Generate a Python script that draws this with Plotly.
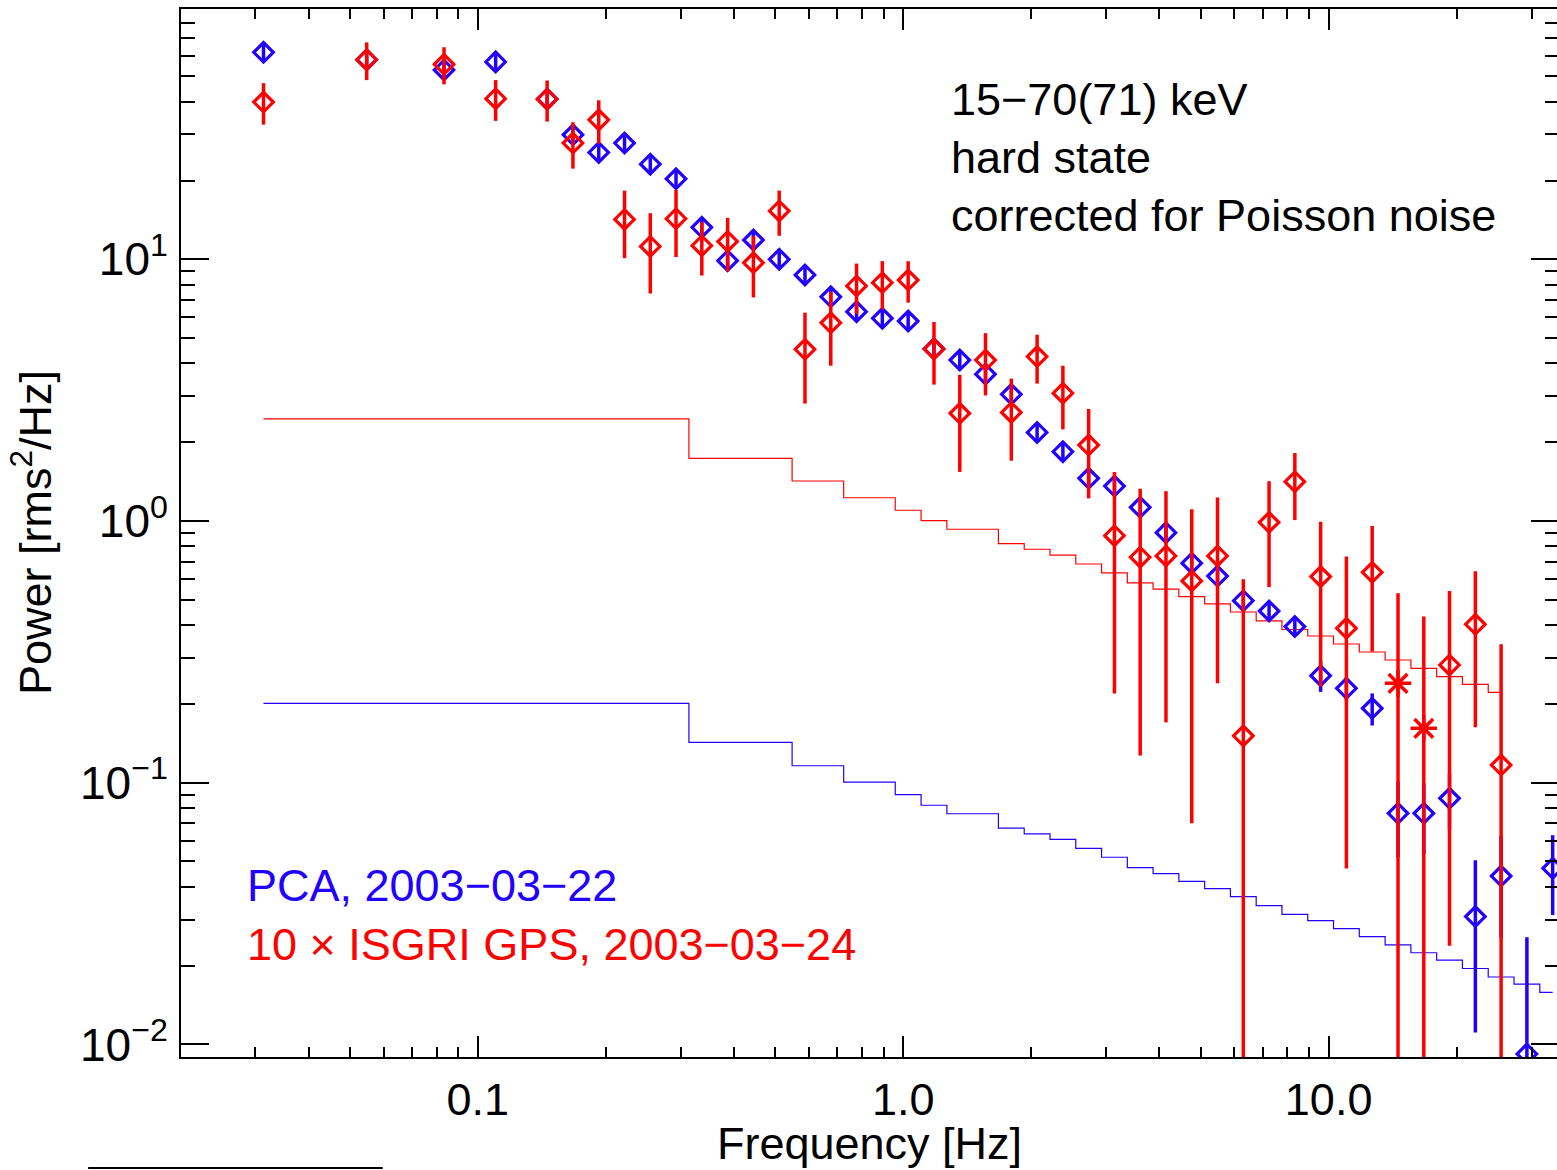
import plotly.graph_objects as go

# ---------------- data ----------------
# frequency bins (Hz) of the log-rebinned power spectra
freq_bins = [0.03134, 0.05478, 0.08326, 0.1101, 0.1455, 0.1673, 0.1924, 0.2212,
             0.2543, 0.2923, 0.3361, 0.3865, 0.4444, 0.5110, 0.5875, 0.6755,
             0.7767, 0.8929, 1.027, 1.181, 1.358, 1.561, 1.795, 2.064, 2.373,
             2.728, 3.137, 3.606, 4.146, 4.767, 5.481, 6.302, 7.244, 8.329,
             9.577, 11.01, 12.66, 14.56, 16.74, 19.24, 22.13, 25.44, 29.25, 33.63]

# PCA 2003-03-22
pca_power = [61.8, 57.9, 52.9, 56.8, 41.0, 29.9, 25.6, 27.8, 23.1, 20.3, 13.25,
             9.88, 11.85, 10.0, 8.71, 7.19, 6.31, 5.95, 5.81, 4.55, 4.12, 3.64,
             3.05, 2.18, 1.84, 1.456, 1.36, 1.128, 0.902, 0.690, 0.616, 0.496,
             0.453, 0.395, 0.2564, 0.2294, 0.1924, 0.0764, 0.0764, 0.0872,
             0.0308, 0.044, 0.0092, 0.0471]
pca_err = [4.5, 4.0, 3.5, 4.0, 2.5, 2.0, 1.7, 1.9, 1.6, 1.4, 0.9, 0.65, 0.8, 0.68,
           0.58, 0.48, 0.42, 0.40, 0.39, 0.31, 0.28, 0.25, 0.21, 0.15, 0.125,
           0.10, 0.09, 0.075, 0.06, 0.047, 0.042, 0.034, 0.031, 0.027, 0.034,
           0.023, 0.027, 0.0245, 0.023, 0.021, 0.0197, 0.0184, 0.0165, 0.0159]
pca_noise = [0.2011] * 10 + [0.1427] * 4 + [0.1161] * 2 + [0.1006] * 2 + \
            [0.0900, 0.0820, 0.0761, 0.0761, 0.0671, 0.0638, 0.0607, 0.0561,
             0.0519, 0.0474, 0.0449, 0.0420, 0.0394, 0.0367, 0.0339, 0.0314,
             0.0297, 0.0277, 0.0258, 0.0240, 0.0224, 0.0210, 0.0195, 0.0181,
             0.0170, 0.0158]

# 10 x ISGRI GPS 2003-03-24
isgri_freq = [0.03134, 0.05478, 0.08326, 0.1101, 0.1455, 0.1673, 0.1924, 0.2212,
              0.2543, 0.2923, 0.3361, 0.3865, 0.4444, 0.5110, 0.5875, 0.6755,
              0.7767, 0.8929, 1.027, 1.181, 1.358, 1.561, 1.795, 2.064, 2.373,
              2.728, 3.137, 3.606, 4.146, 4.767, 5.481, 6.302, 7.244, 8.329,
              9.577, 11.01, 12.66, 19.24, 22.13, 25.44]
isgri_power = [39.9, 57.9, 55.6, 41.1, 40.9, 27.8, 34.1, 14.2, 11.2, 14.3, 11.27,
               11.7, 9.70, 15.3, 4.53, 5.72, 7.91, 8.14, 8.33, 4.54, 2.58, 4.12,
               2.60, 4.25, 3.08, 1.95, 0.879, 0.727, 0.735, 0.59, 0.735, 0.151,
               0.989, 1.413, 0.613, 0.389, 0.637, 0.2818, 0.403, 0.1168]
isgri_err = [7.2, 9.5, 9.0, 7.3, 7.3, 5.6, 6.4, 4.1, 3.8, 4.1, 2.6, 2.7, 2.55, 3.0,
             1.72, 1.8, 1.72, 1.7, 1.5, 1.22, 1.04, 1.1, 0.9, 0.9, 0.84, 0.73,
             0.66, 0.6, 0.565, 0.52, 0.495, 0.448, 0.43, 0.405, 0.38, 0.342,
             0.32, 0.258, 0.24, 0.221]
isgri_star_freq = [14.56, 16.74]
isgri_star_power = [0.2397, 0.1613]
isgri_star_err = [0.29, 0.27]
isgri_noise = [2.454] * 10 + [1.736] * 4 + [1.422] * 2 + [1.227] * 2 + \
              [1.099, 1.003, 0.930, 0.930, 0.820, 0.780, 0.741, 0.685, 0.634,
               0.580, 0.549, 0.514, 0.482, 0.449, 0.415, 0.385, 0.3636, 0.3388,
               0.3158, 0.2943, 0.2736, 0.2541, 0.2377, 0.2215]

x_major = [0.1, 1.0, 10.0]
x_major_text = ["0.1", "1.0", "10.0"]
x_minor = [0.03, 0.04, 0.05, 0.06, 0.07, 0.08, 0.09, 0.2, 0.3, 0.4, 0.5, 0.6,
           0.7, 0.8, 0.9, 2, 3, 4, 5, 6, 7, 8, 9, 20, 30]
y_major = [0.01, 0.1, 1, 10]
y_major_text = ["10<sup>\u22122</sup>", "10<sup>\u22121</sup>", "10<sup>0</sup>",
                "10<sup>1</sup>"]
y_minor = [0.009, 0.02, 0.03, 0.04, 0.05, 0.06, 0.07, 0.08, 0.09, 0.2, 0.3, 0.4,
           0.5, 0.6, 0.7, 0.8, 0.9, 2, 3, 4, 5, 6, 7, 8, 9, 20, 30, 40, 50,
           60, 70, 80]

BLUE = "#2200FF"
RED = "#FF0000"
FONT = "Liberation Sans, Arial, Helvetica, sans-serif"
FS = 45

fig = go.Figure()

# Poisson noise levels (histogram style)
fig.add_trace(go.Scatter(x=freq_bins, y=pca_noise, mode="lines",
                         line=dict(color=BLUE, width=1.2, shape="hvh"),
                         hoverinfo="skip"))
fig.add_trace(go.Scatter(x=freq_bins[:len(isgri_noise)], y=isgri_noise,
                         mode="lines",
                         line=dict(color=RED, width=1.2, shape="hvh"),
                         hoverinfo="skip"))

# PCA points
fig.add_trace(go.Scatter(
    x=freq_bins, y=pca_power, mode="markers",
    marker=dict(symbol="diamond-open", size=15, color=BLUE,
                line=dict(color=BLUE, width=3.2)),
    error_y=dict(type="data", array=pca_err, symmetric=True, color=BLUE,
                 thickness=3.5, width=0)))

# ISGRI points
fig.add_trace(go.Scatter(
    x=isgri_freq, y=isgri_power, mode="markers",
    marker=dict(symbol="diamond-open", size=15, color=RED,
                line=dict(color=RED, width=3.2)),
    error_y=dict(type="data", array=isgri_err, symmetric=True, color=RED,
                 thickness=3.5, width=0)))
fig.add_trace(go.Scatter(
    x=isgri_star_freq, y=isgri_star_power, mode="markers",
    marker=dict(symbol="asterisk-open", size=22, color=RED,
                line=dict(color=RED, width=3.5)),
    error_y=dict(type="data", array=isgri_star_err, symmetric=True, color=RED,
                 thickness=3.5, width=0)))

axis_common = dict(
    type="log", showgrid=False, zeroline=False, showline=True,
    linecolor="black", linewidth=1.8, mirror="ticks", ticks="inside",
    tickcolor="black", tickwidth=1.5,
)

# the plot's right border lies just outside the 1557 px window
fig.update_xaxes(**axis_common, range=[-1.6979, 1.5416], tickmode="array",
                 tickvals=x_major, ticktext=x_major_text, ticklen=21,
                 ticklabelstandoff=2,
                 tickfont=dict(family=FONT, size=FS, color="black"),
                 minor=dict(tickmode="array", tickvals=x_minor, ticklen=10,
                            ticks="inside", tickcolor="black", tickwidth=1.5,
                            showgrid=False))
fig.update_yaxes(**axis_common, range=[-2.0481, 1.9564], tickmode="array",
                 tickvals=y_major, ticktext=y_major_text, ticklen=28,
                 ticklabelstandoff=2,
                 tickfont=dict(family=FONT, size=46, color="black"),
                 minor=dict(tickmode="array", tickvals=y_minor, ticklen=14,
                            ticks="inside", tickcolor="black", tickwidth=1.5,
                            showgrid=False))

# paper-x conversion for a plot width of 1380 px (181 .. 1561)
PW = 1380.0


def px(x_pixel):
    return (x_pixel - 181) / PW


annotations = [
    dict(text="Frequency [Hz]", x=px(870), y=-0.0825, xref="paper",
         yref="paper", xanchor="center", yanchor="middle", showarrow=False,
         font=dict(family=FONT, size=FS, color="black")),
    dict(text="Power [rms<sup>2</sup>/Hz]", x=px(31.8), y=0.5, xref="paper",
         yref="paper", xanchor="center", yanchor="middle", textangle=-90,
         showarrow=False, font=dict(family=FONT, size=FS, color="black")),
    dict(text="15\u221270(71) keV", x=px(950), y=0.914, xref="paper",
         yref="paper", xanchor="left", yanchor="middle", showarrow=False,
         font=dict(family=FONT, size=FS, color="black")),
    dict(text="hard state", x=px(950), y=0.858, xref="paper", yref="paper",
         xanchor="left", yanchor="middle", showarrow=False,
         font=dict(family=FONT, size=FS, color="black")),
    dict(text="corrected for Poisson noise", x=px(950), y=0.8026,
         xref="paper", yref="paper", xanchor="left", yanchor="middle",
         showarrow=False, font=dict(family=FONT, size=FS, color="black")),
    dict(text="PCA, 2003\u221203\u221222", x=px(245), y=0.1633, xref="paper",
         yref="paper", xanchor="left", yanchor="middle", showarrow=False,
         font=dict(family=FONT, size=FS, color=BLUE)),
    dict(text="10 \u00d7 ISGRI GPS, 2003\u221203\u221224", x=px(245), y=0.107,
         xref="paper", yref="paper", xanchor="left", yanchor="middle",
         showarrow=False, font=dict(family=FONT, size=FS, color=RED)),
]

fig.update_layout(
    width=1561, height=1170,
    margin=dict(l=181, r=0, t=9, b=113),
    plot_bgcolor="white", paper_bgcolor="white",
    showlegend=False, annotations=annotations,
    shapes=[dict(type="line", xref="paper", yref="paper", x0=px(88),
                 x1=px(383), y0=-0.1059, y1=-0.1059,
                 line=dict(color="black", width=2))],
)

# remove the default page margin so the figure fills the window exactly
fig.write_html(
    "out.html",
    config={"displayModeBar": False},
    post_script="document.body.style.margin='0';"
                "document.body.style.overflow='hidden';",
)
